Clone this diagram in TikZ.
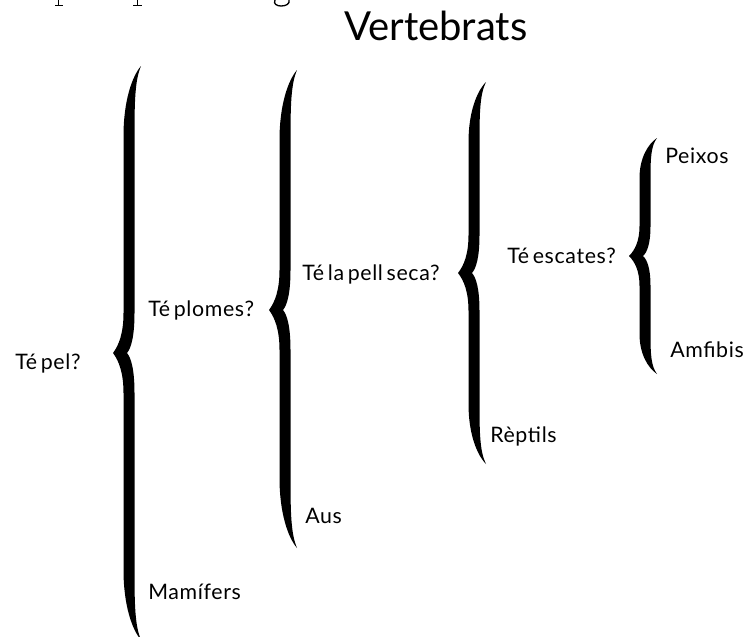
\documentclass[tikz,border=0pt]{standalone}
\usepackage{fontspec}
\setmainfont{Lato}
\newfontfamily\lblfont[LetterSpace=3,WordSpace=0.6]{Lato}
\newcommand\bracepath[6]{%
 \fill (#1+12,#2) .. controls (#1+6,#2+0.2*#5) and (#1+5.5,#2+0.5*#5) .. (#1+5.5,#2+#5)
  -- (#1+5.5,#3-#6) .. controls (#1+5.5,#3-0.4*#6) and (#1+2,#3-0.12*#6) .. (#1-2,#3)
  .. controls (#1+2,#3+0.12*#6) and (#1+5.5,#3+0.4*#6) .. (#1+5.5,#3+#6)
  -- (#1+5.5,#4-#5) .. controls (#1+5.5,#4-0.5*#5) and (#1+6,#4-0.2*#5) .. (#1+12,#4)
  .. controls (#1+3,#4-0.15*#5) and (#1-5.5,#4-0.5*#5) .. (#1-5.5,#4-#5)
  -- (#1-5.5,#3+#6) .. controls (#1-5.5,#3+0.5*#6) and (#1-10,#3+0.2*#6) .. (#1-16,#3)
  .. controls (#1-10,#3-0.2*#6) and (#1-5.5,#3-0.5*#6) .. (#1-5.5,#3-#6)
  -- (#1-5.5,#2+#5) .. controls (#1-5.5,#2+0.5*#5) and (#1+3,#2+0.15*#5) .. (#1+12,#2) -- cycle;}
\begin{document}
\begin{tikzpicture}[x=0.75pt,y=-0.75pt,
  lbl/.style={anchor=base west, inner sep=0pt, font=\lblfont\fontsize{16}{19}\selectfont},
  ttl/.style={anchor=base west, inner sep=0pt, font=\fontsize{30}{36}\selectfont},
  frag/.style={line width=1.3pt}]
\useasboundingbox (0,0) rectangle (752,636);
\clip (0,0) rectangle (752,636);
\fill[white] (0,0) rectangle (752,636);
% descender fragments of a clipped line above the picture
\draw[frag] (58.5,0) -- (58.5,5.5) (55,5.5) -- (63,5.5);
\draw[frag] (137.5,0) -- (137.5,5.5) (133,5.5) -- (142,5.5);
\draw[line width=1pt] (275,0) .. controls (273,4) and (277,6) .. (281,6) .. controls (286,6) and (290,4) .. (289,0);
% title
\node[ttl] (title) at (344,40) {Vertebrats};
% braces
\bracepath{129}{66}{353}{640}{70}{40}
\bracepath{285}{70}{310}{548}{70}{40}
\bracepath{474}{82}{273}{464}{60}{38}
\bracepath{645}{138}{256}{374}{40}{30}
% labels
\node[lbl] (q1) at (15,369) {Té pel?};
\node[lbl] (q2) at (148,316) {Té plomes?};
\node[lbl] (q3) at (302,280) {Té la pell seca?};
\node[lbl] (q4) at (507,263) {Té escates?};
\node[lbl] (a1) at (148,599) {Mamífers};
\node[lbl] (a2) at (305,523) {Aus};
\node[lbl] (a3) at (490,442) {Rèptils};
\node[lbl] (a4) at (665,163) {Peixos};
\node[lbl] (a5) at (670,357) {Amfibis};
\end{tikzpicture}
\end{document}
